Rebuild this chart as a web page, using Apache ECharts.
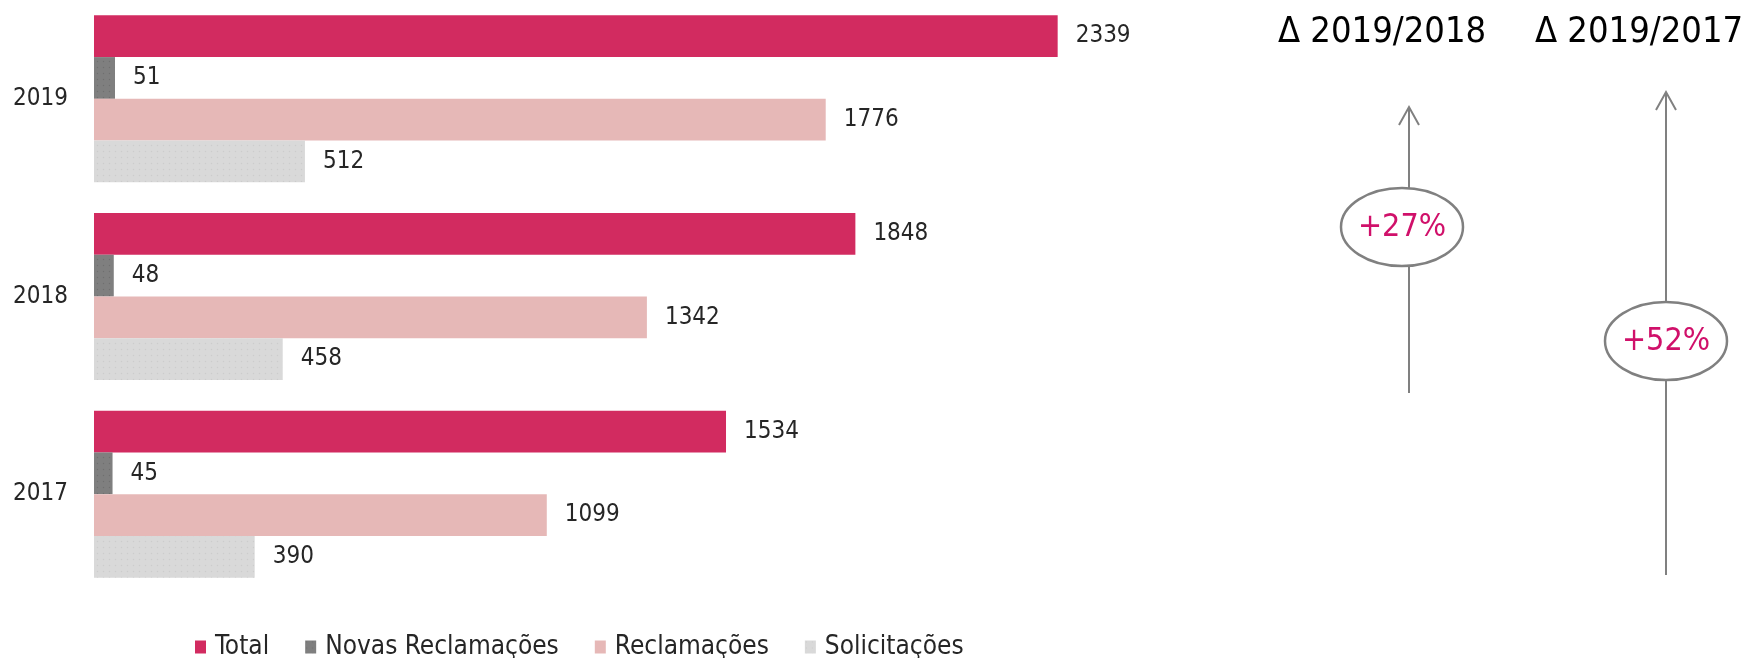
<!DOCTYPE html>
<html>
<head>
<meta charset="utf-8">
<script src="https://cdn.jsdelivr.net/npm/echarts@6/dist/echarts.min.js"></script>
<style>
  html, body { margin: 0; padding: 0; background: #ffffff; }
  #chart { width: 1748px; height: 658px; }
</style>
</head>
<body>
<div id="chart"></div>
<script>
// ---- data ----
const categories = ['2019', '2018', '2017'];
const seriesNames = ['Total', 'Novas Reclamações', 'Reclamações', 'Solicitações'];
const total = [2339, 1848, 1534];
const novasReclamacoes = [51, 48, 45];
const reclamacoes = [1776, 1342, 1099];
const solicitacoes = [512, 458, 390];
const deltaHeadings = ['Δ 2019/2018', 'Δ 2019/2017'];

// ---- derived ----
const pct = (a, b) => '+' + Math.round((a / b - 1) * 100) + '%';
const delta1 = pct(total[0], total[1]);
const delta2 = pct(total[0], total[2]);

const FONT = '"DejaVu Sans Condensed", "DejaVu Sans", sans-serif';
const colors = ['#D22B60', '#7F7F7F', '#E6B8B7', '#D9D9D9'];
const seriesData = [total, novasReclamacoes, reclamacoes, solicitacoes];

const decalFor = (i) => {
  if (i === 1) return { symbol: 'circle', symbolSize: 0.5, color: 'rgba(0,0,0,0.12)', dashArrayX: 3, dashArrayY: 3, rotation: 0 };
  if (i === 3) return { symbol: 'circle', symbolSize: 0.5, color: 'rgba(0,0,0,0.06)', dashArrayX: 3, dashArrayY: 3, rotation: 0 };
  return null;
};

const chart = echarts.init(document.getElementById('chart'), null, { renderer: 'canvas' });

const arrowColor = '#808080';
const pinkText = '#D0106A';

function arrow(x, yTop, yBottom) {
  return [
    { type: 'line', z: 10, shape: { x1: x, y1: yBottom, x2: x, y2: yTop + 1 }, style: { stroke: arrowColor, lineWidth: 2 } },
    { type: 'polyline', z: 10, shape: { points: [[x - 10, yTop + 18], [x, yTop], [x + 10, yTop + 18]] }, style: { stroke: arrowColor, lineWidth: 2, fill: null } }
  ];
}
function bubble(cx, cy, text) {
  return [
    { type: 'ellipse', z: 11, shape: { cx: cx, cy: cy, rx: 61, ry: 39 }, style: { fill: '#ffffff', stroke: arrowColor, lineWidth: 2.5 } },
    { type: 'text', z: 12, style: { text: text, x: cx, y: cy + 1, align: 'center', verticalAlign: 'middle', fill: pinkText, font: '32px ' + FONT } }
  ];
}

const option = {
  backgroundColor: '#ffffff',
  animation: false,
  legend: {
    data: seriesNames,
    left: 190,
    top: 629,
    icon: 'rect',
    itemWidth: 11,
    itemHeight: 13,
    itemGap: 36,
    textStyle: { fontFamily: FONT, fontSize: 26, color: '#262626', padding: [0, 0, 0, 4] }
  },
  grid: { left: 94, top: -1, width: 1648, height: 594, containLabel: false },
  xAxis: { type: 'value', min: 0, max: 4000, show: false },
  yAxis: {
    type: 'category',
    data: categories,
    inverse: true,
    axisLine: { show: false },
    axisTick: { show: false },
    splitLine: { show: false },
    axisLabel: { margin: 26, fontFamily: FONT, fontSize: 24, color: '#262626' }
  },
  series: seriesNames.map((name, i) => {
    const itemStyle = { color: colors[i] };
    const d = decalFor(i);
    if (d) itemStyle.decal = d;
    return {
      name: name,
      type: 'bar',
      data: seriesData[i],
      barWidth: 41.75,
      barGap: '0%',
      itemStyle: itemStyle,
      label: { show: true, position: 'right', distance: 18, fontFamily: FONT, fontSize: 24, color: '#262626' }
    };
  }),
  graphic: [
    { type: 'text', style: { text: deltaHeadings[0], x: 1382, y: 33, align: 'center', verticalAlign: 'middle', fill: '#000000', font: '36px ' + FONT } },
    { type: 'text', style: { text: deltaHeadings[1], x: 1639, y: 33, align: 'center', verticalAlign: 'middle', fill: '#000000', font: '36px ' + FONT } },
    ...arrow(1409, 107, 393),
    ...bubble(1402, 227, delta1),
    ...arrow(1666, 92, 575),
    ...bubble(1666, 341, delta2)
  ]
};

chart.setOption(option);
</script>
</body>
</html>
